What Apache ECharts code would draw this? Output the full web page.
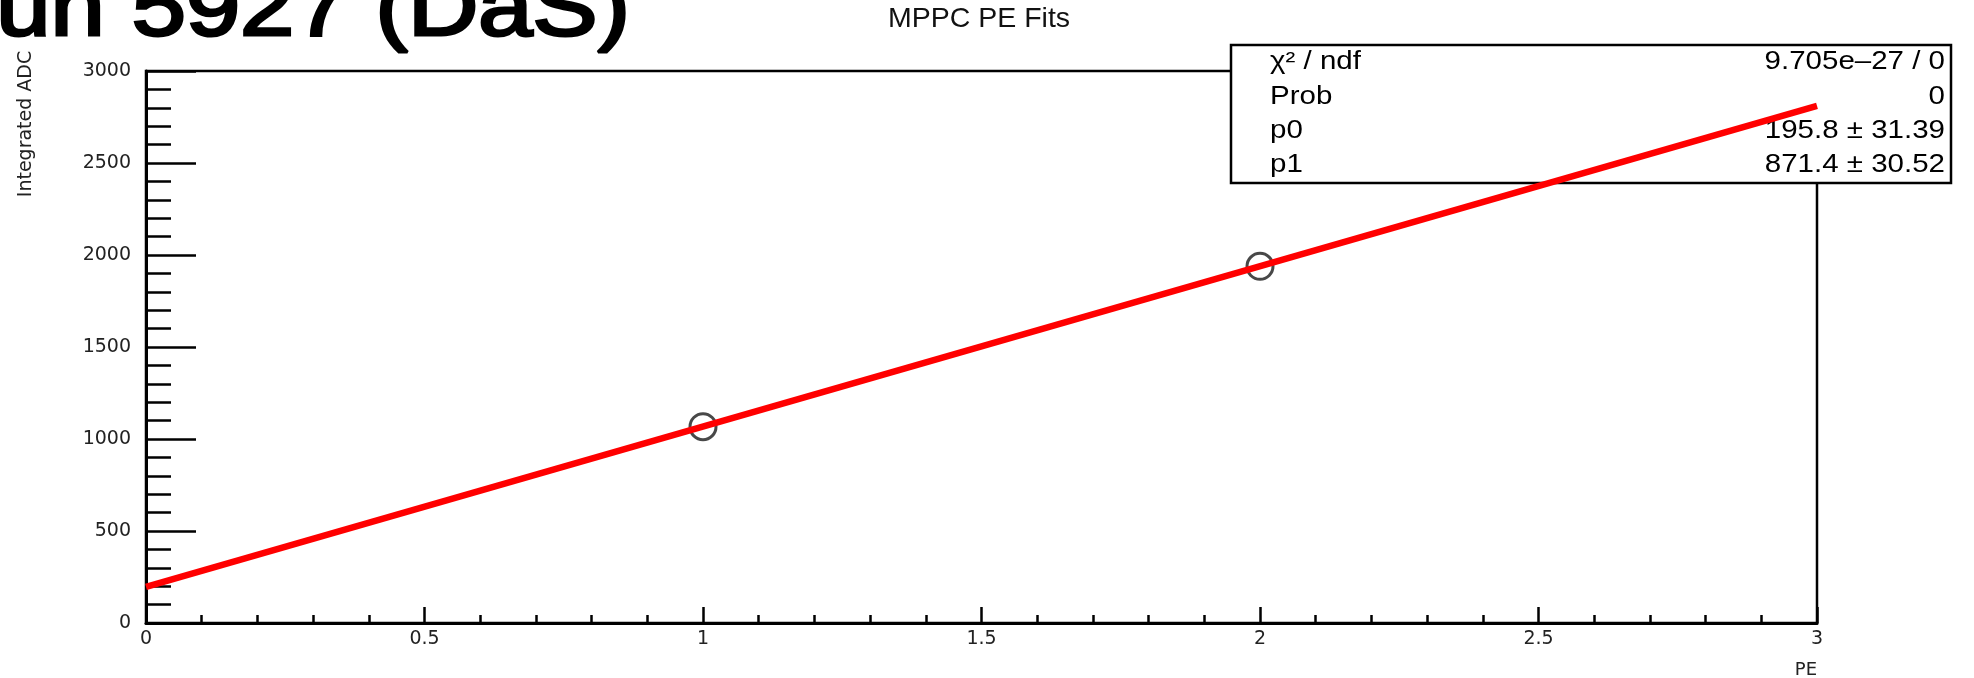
<!DOCTYPE html>
<html>
<head>
<meta charset="utf-8">
<script src="https://cdn.jsdelivr.net/npm/echarts@6/dist/echarts.min.js"></script>
<style>
html,body{margin:0;padding:0;background:#fff;}
#chart{width:1974px;height:678px;}
</style>
</head>
<body>
<div id="chart"></div>
<script>
// ---- data ----
const pageTitle = 'Run 5927 (DaS)';
const chartTitle = 'MPPC PE Fits';
const xAxisTitle = 'PE';
const yAxisTitle = 'Integrated ADC';
const xTickLabels = ['0', '0.5', '1', '1.5', '2', '2.5', '3'];
const yTickLabels = ['0', '500', '1000', '1500', '2000', '2500', '3000'];
const peValues = [1, 2];            // measured points (PE)
const adcValues = [1067.2, 1938.6]; // measured points (Integrated ADC)
const fitX = [0, 3];                // fitted line end points (PE)
const fitY = [195.8, 2810.0];       // fitted line end points (ADC)
const statNames = ['χ² / ndf', 'Prob', 'p0', 'p1'];
const statValues = ['9.705e–27 / 0', '0', '195.8 ± 31.39', '871.4 ± 30.52'];

const chart = echarts.init(document.getElementById('chart'), null, {renderer: 'canvas'});

const pointData = peValues.map((x, i) => [x, adcValues[i]]);
const fitData = fitX.map((x, i) => [x, fitY[i]]);

const statRowsY = [62, 97, 131, 165];
const statGraphics = [];
statGraphics.push({
  type: 'rect', z: 10,
  shape: {x: 1231, y: 45, width: 720, height: 138},
  style: {fill: '#fff', stroke: '#000', lineWidth: 2.5}
});
statNames.forEach((n, i) => {
  statGraphics.push({
    type: 'text', z: 11, x: 1270, y: statRowsY[i], scaleX: 1.18,
    style: {text: n, font: '25px "Liberation Sans", Arial, sans-serif', fill: '#000', align: 'left', verticalAlign: 'middle'}
  });
  statGraphics.push({
    type: 'text', z: 11, x: 1945, y: statRowsY[i], scaleX: 1.18,
    style: {text: statValues[i], font: '25px "Liberation Sans", Arial, sans-serif', fill: '#000', align: 'right', verticalAlign: 'middle'}
  });
});

const option = {
  backgroundColor: '#fff',
  animation: false,
  title: {
    text: chartTitle,
    left: 888, top: 5, padding: 0,
    textStyle: {fontFamily: '"Liberation Sans", Arial, sans-serif', fontSize: 28.5, fontWeight: 'normal', color: '#111'}
  },
  grid: {
    left: 146, right: 157, top: 71, bottom: 55,
    containLabel: false, outerBoundsMode: 'none',
    show: true, borderColor: '#000', borderWidth: 2.5, backgroundColor: 'transparent'
  },
  xAxis: {
    type: 'value', min: 0, max: 3, interval: 0.5,
    name: xAxisTitle, nameLocation: 'end', nameGap: 0, nameMoveOverlap: false,
    nameTextStyle: {fontFamily: '"DejaVu Sans", sans-serif', fontSize: 18, color: '#222', align: 'right', verticalAlign: 'top', lineHeight: 20, padding: [37, 0, 0, 0]},
    axisLine: {show: true, onZero: false, lineStyle: {color: '#000', width: 3}},
    axisTick: {show: true, inside: true, length: 16, lineStyle: {color: '#000', width: 2.5}},
    minorTick: {show: true, splitNumber: 5, length: 8, lineStyle: {color: '#000', width: 2.5}},
    splitLine: {show: false}, minorSplitLine: {show: false},
    axisLabel: {
      margin: 7, color: '#222', fontFamily: '"DejaVu Sans", sans-serif', fontSize: 19,
      formatter: v => xTickLabels[Math.round(v / 0.5)] ?? ''
    }
  },
  yAxis: {
    type: 'value', min: 0, max: 3000, interval: 500,
    name: yAxisTitle, nameLocation: 'middle', nameGap: 110, nameMoveOverlap: false,
    nameTextStyle: {fontFamily: '"DejaVu Sans", sans-serif', fontSize: 19, color: '#222', padding: [0, 0, 0, 446]},
    axisLine: {show: true, onZero: false, lineStyle: {color: '#000', width: 3}},
    axisTick: {show: true, inside: true, length: 50, lineStyle: {color: '#000', width: 2.5}},
    minorTick: {show: true, splitNumber: 5, length: 25, lineStyle: {color: '#000', width: 2.5}},
    splitLine: {show: false}, minorSplitLine: {show: false},
    axisLabel: {
      margin: 15, color: '#222', fontFamily: '"DejaVu Sans", sans-serif', fontSize: 19,
      formatter: v => yTickLabels[Math.round(v / 500)] ?? ''
    }
  },
  graphic: [
    {
      type: 'text', z: 5, x: 630, y: 12, scaleX: 1.16,
      style: {
        text: pageTitle, font: '84px "Liberation Sans", Arial, sans-serif', fill: '#000',
        stroke: '#000', lineWidth: 3,
        align: 'right', verticalAlign: 'middle',
        shadowColor: 'rgba(0,0,0,0.6)', shadowBlur: 8, shadowOffsetX: 3, shadowOffsetY: 6
      }
    }
  ].concat(statGraphics),
  series: [
    {
      type: 'scatter', z: 15, data: pointData,
      symbol: 'circle', symbolSize: 26,
      itemStyle: {color: 'rgba(0,0,0,0)', borderColor: '#1a1a1a', borderWidth: 3}
    },
    {
      type: 'line', z: 20, data: fitData, showSymbol: false, symbol: 'none',
      lineStyle: {color: '#ff0000', width: 6.5}
    }
  ]
};
chart.setOption(option);
</script>
</body>
</html>
